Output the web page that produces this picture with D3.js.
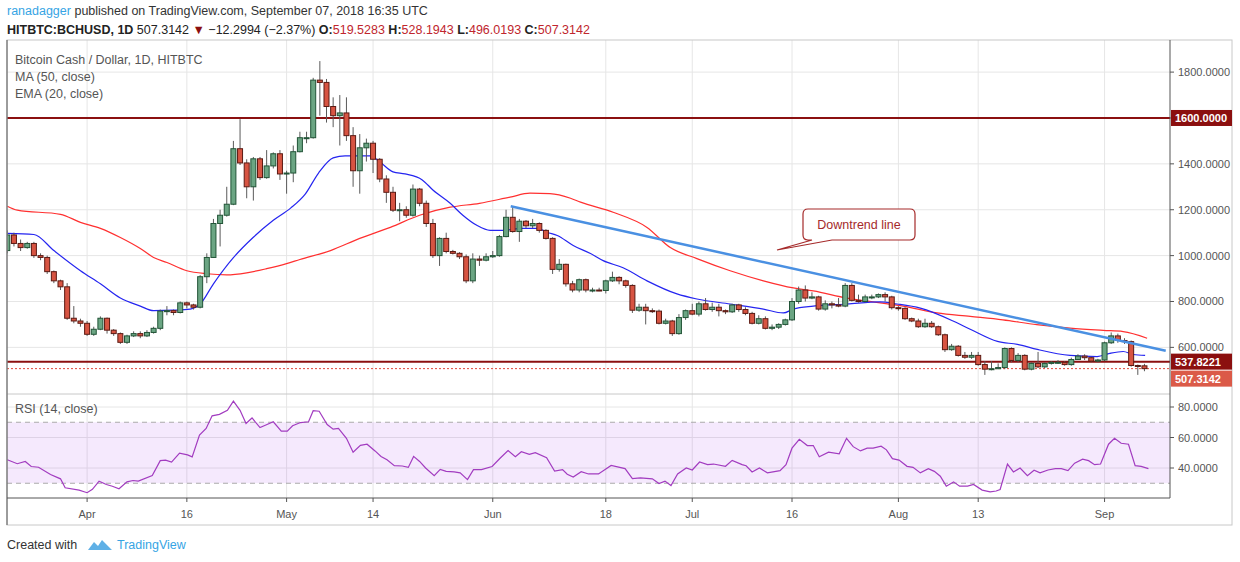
<!DOCTYPE html>
<html>
<head>
<meta charset="utf-8">
<script src="https://cdn.jsdelivr.net/npm/d3@7"></script>
<style>
  body { margin: 0; background: #fff; }
  text { font-family: "Liberation Sans", Arial, sans-serif; }
</style>
</head>
<body>
<svg id="chart" width="1240" height="562"></svg>
<script>
// daily candles, day 0 = 2018-03-20, last = 2018-09-07
var firstOpen = 1022;
var closes = [1090,1053,1035,1053,1000,992,930,890,864,727,715,705,657,679,727,675,660,622,650,660,650,665,683,758,760,752,794,785,775,908,992,1140,1176,1224,1466,1404,1300,1422,1340,1391,1444,1356,1360,1453,1514,
  1514,1765,1755,1650,1610,1622,1523,1370,1470,1490,1420,1334,1276,1198,1200,1176,1290,1228,1140,1000,1075,1018,1010,995,890,985,980,995,1000,1083,1167,1105,1150,1130,1140,1110,1075,940,962,877,850,895,850,
  850,848,890,905,890,870,762,775,760,758,705,715,660,730,760,745,790,765,775,760,755,785,765,748,705,725,683,688,700,720,800,850,815,820,767,790,785,780,870,805,800,820,820,830,
  820,773,770,725,715,690,705,690,655,590,605,565,557,565,525,505,507,512,595,543,565,505,530,515,530,535,535,525,547,562,555,540,545,620,650,630,625,521,519.5283,507.3142];
var highs = [1110,1100,1070,1060,1060,1010,1000,935,895,880,780,725,715,690,735,730,680,665,655,670,670,675,690,765,780,765,800,800,790,915,1010,1160,1200,1300,1500,1595,1420,1430,1430,1460,1450,1460,1370,1480,1540,
  1540,1775,1848,1770,1690,1700,1690,1560,1530,1510,1500,1425,1350,1300,1230,1215,1310,1295,1240,1160,1080,1100,1025,1015,1005,1010,1000,1010,1020,1090,1200,1215,1160,1155,1160,1145,1115,1080,985,965,890,900,900,
  860,860,895,930,910,895,875,790,790,770,765,725,720,745,765,790,800,815,795,790,765,790,790,775,755,740,735,700,705,725,815,865,870,840,825,805,800,815,880,880,830,830,830,835,
  840,825,780,775,730,725,725,715,695,660,615,610,580,580,580,540,540,530,600,600,575,570,535,580,535,540,545,540,555,570,570,560,550,625,665,660,640,630,525,528.1943];
var lows = [1010,1040,1020,1030,990,980,920,880,850,720,705,690,650,650,675,660,650,615,615,645,640,645,660,675,740,740,748,770,765,770,880,990,1040,1170,1220,1395,1250,1240,1330,1335,1380,1330,1270,1320,1450,
  1490,1510,1610,1580,1560,1480,1500,1300,1270,1410,1360,1320,1230,1190,1150,1165,1170,1215,1125,990,955,1010,1005,985,880,880,955,975,990,995,1080,1100,1060,1120,1120,1100,1070,920,930,865,840,840,840,
  840,845,835,885,875,860,750,755,700,750,700,700,650,655,720,740,735,760,755,735,745,750,755,740,700,700,678,675,680,695,715,790,800,810,760,760,770,775,775,800,795,795,810,815,
  800,765,760,720,710,685,685,685,650,580,585,560,550,550,520,480,500,505,505,535,535,500,500,510,510,525,528,520,520,545,545,535,535,540,615,620,615,516,480,496.0193];

// indicator lines: [day, value]
var ma50 = [[0,1215],[1.5,1198],[8,1180],[11,1145],[14,1119],[17,1079],[20,1031],[22,992],[24,970],[27,934],[30,921],[33,916],[36,925],[39,943],[42,965],[44,983],[48.6,1022],[53,1075],[57.6,1123],[62,1176],[66.6,1211],[71,1228],[75.6,1255],[78.6,1272],[81.6,1270],[84.7,1250],[86.2,1233],[91.1,1189],[96.2,1123],[99.7,1035],[103.7,987],[108.7,934],[113.7,890],[118.2,859],[121.2,846],[126.3,815],[131,795],[134.7,780],[139.8,750],[144.8,735],[149.7,720],[154.8,699],[159.8,684],[164.8,674],[167.8,669],[171.4,640]];
var ema20 = [[0,1097],[4,1092],[7,1022],[11,934],[14,877],[17,815],[20,780],[22,760],[25,762],[27.5,767],[29,789],[31,877],[34,991],[37,1080],[40,1154],[42.6,1207],[44.8,1268],[46.8,1360],[49,1426],[50.8,1435],[52.6,1435],[54.6,1435],[56,1409],[58,1365],[59.8,1356],[62.4,1330],[64,1286],[66.6,1228],[68.5,1176],[70.6,1132],[72.6,1110],[74.5,1110],[77.5,1119],[79.7,1119],[81.2,1101],[82.7,1088],[85.1,1044],[87.7,1009],[89.6,978],[92.6,947],[96.2,890],[100.7,833],[103.7,811],[108.7,789],[113.7,767],[116.7,750],[118.2,767],[121.2,780],[126.3,789],[131.2,798],[133.8,789],[137.3,771],[142.3,714],[144.8,679],[148.9,626],[151.9,613],[154.9,591],[159.8,565],[163.9,560],[165.8,574],[167.8,582],[169.3,569],[171.1,565]];
var rsi = [[0,45.4],[1.5,42.8],[2.7,44.3],[3.6,41],[4.7,40.5],[6.5,35.7],[8,32.9],[8.7,27],[10.8,25.5],[12,23.8],[12.8,26],[13.8,31.4],[14.9,29.2],[15.8,28],[16.8,26.4],[18,30.9],[18.9,31.8],[19.7,31.4],[21.8,35],[23,44.8],[23.8,45.2],[24.7,43.9],[25.9,49.7],[27.1,48.6],[27.8,47.3],[28.9,61.6],[29.9,65.9],[30.8,74.2],[31.9,75.2],[33.1,77.8],[34,83.9],[35,77.8],[35.9,69.2],[36.8,72.8],[38,66.5],[38.8,68],[40,70.3],[41.2,64.2],[42.1,64.2],[42.9,67.7],[44.1,69.8],[45.3,70.3],[46,77.6],[46.9,77.2],[48.1,68.5],[49,65.5],[49.8,66],[51,59.5],[52,50.4],[53.1,54.8],[54.1,55.6],[55.3,51.2],[56.2,47.6],[57.1,45.4],[58.2,41.5],[59.4,41.3],[60.3,40.4],[61.1,47.6],[62,44.3],[62.9,40],[64.2,35],[65.1,39.1],[66,37.8],[67.2,37.4],[68.1,36.8],[69.2,32.4],[70.1,38.9],[71.3,38.9],[72.9,41],[74.1,46.4],[75.3,51.5],[76.4,47.4],[77.3,50.7],[78.5,48.9],[79.4,50],[81.1,46.7],[82.3,38],[83.5,38.9],[84.2,35.9],[85.1,34.1],[86.3,37.6],[87.4,36.1],[88.9,36.1],[90.8,41.7],[92.9,39.6],[94,33.1],[95.2,33.5],[97,32.9],[98,29.8],[98.9,31.4],[99.8,28.5],[100.8,36.1],[102.1,40],[103,38.7],[104.1,43.9],[105.3,42.2],[106.2,42.6],[108,41.1],[109,45],[110.5,42.2],[111.1,41.5],[112,37.4],[113.1,40],[114.3,36.8],[116.2,38.3],[117.1,42.2],[118,53],[119.1,58.8],[120.3,54.7],[121.2,54.7],[122.1,47.4],[123.5,50.4],[125.1,49.3],[126.2,59.5],[127.2,54],[128.3,51.2],[129.3,53],[130.2,53],[131.4,54.3],[132.2,51.9],[133.1,46.1],[134.1,45.2],[135.3,41.1],[136.2,40.4],[137.3,36.8],[138.5,39.6],[139.4,37.8],[140.3,34.6],[141.2,28.1],[142.3,30.9],[143.2,28.1],[144.4,28.1],[145.3,29.2],[146.6,25.5],[147.8,24.4],[148.7,24.9],[149.3,25.9],[150.4,42.6],[151.3,37.4],[152.3,40],[153.4,35],[154.4,38.5],[155.3,36.8],[156.5,38.7],[157.6,39.6],[158.5,39.6],[159.5,38.3],[160.5,43.2],[161.7,45.8],[162.6,44.8],[163.5,42.2],[164.4,42.6],[165.6,55.6],[166.5,59.5],[167.5,56.2],[168.6,55.6],[169.6,41.5],[170.5,41.1],[171.6,39.6]];

var trendLine = [[75.7,1215],[174.2,585]];
var levels = [1600, 537.8221];
var lastPrice = 507.3142;
var priceTicks = [600,800,1000,1200,1400,1600,1800];
var rsiTicks = [40,60,80];
var dateTicks = [[12,"Apr"],[27,"16"],[42,"May"],[55,"14"],[73,"Jun"],[90,"18"],[103,"Jul"],[118,"16"],[134,"Aug"],[146,"13"],[165,"Sep"]];

var svg = d3.select("#chart");
var L = 7, R = 1170, T = 40, MB = 393, RT = 395, RB = 498;

var x = d3.scaleLinear().domain([0,171]).range([7.3, 7.3 + 171*6.65]);
var y = d3.scaleLinear().domain([400,1800]).range([393.25, 72.1]);
var yr = d3.scaleLinear().domain([40,80]).range([468,407]);

svg.append("defs").append("clipPath").attr("id","clipMain")
  .append("rect").attr("x",L).attr("y",T).attr("width",R-L).attr("height",MB-T);
svg.select("defs").append("clipPath").attr("id","clipRsi")
  .append("rect").attr("x",L).attr("y",RT).attr("width",R-L).attr("height",RB-RT);

// grid
var grid = svg.append("g").attr("stroke","#e6e6e6").attr("stroke-width",1);
dateTicks.forEach(function(t){
  grid.append("line").attr("x1",x(t[0])).attr("x2",x(t[0])).attr("y1",T).attr("y2",RB);
});
priceTicks.forEach(function(p){
  grid.append("line").attr("x1",L).attr("x2",R).attr("y1",y(p)).attr("y2",y(p));
});
rsiTicks.forEach(function(p){
  grid.append("line").attr("x1",L).attr("x2",R).attr("y1",yr(p)).attr("y2",yr(p));
});

// RSI pane
var rg = svg.append("g").attr("clip-path","url(#clipRsi)");
rg.append("rect").attr("x",L).attr("width",R-L).attr("y",yr(70)).attr("height",yr(30)-yr(70))
  .attr("fill","#9c27f0").attr("fill-opacity",0.1);
[70,30].forEach(function(v){
  rg.append("line").attr("x1",L).attr("x2",R).attr("y1",yr(v)).attr("y2",yr(v))
    .attr("stroke","#aaa").attr("stroke-dasharray","5,4");
});
rg.append("path").datum(rsi)
  .attr("d", d3.line().x(function(d){return x(d[0]);}).y(function(d){return yr(d[1]);}))
  .attr("fill","none").attr("stroke","#a23cc0").attr("stroke-width",1.2);

// main pane
var mg = svg.append("g").attr("clip-path","url(#clipMain)");
var smooth = d3.line().curve(d3.curveMonotoneX)
  .x(function(d){return x(d[0]);}).y(function(d){return y(d[1]);});

levels.forEach(function(v){
  mg.append("line").attr("x1",L).attr("x2",R).attr("y1",y(v)).attr("y2",y(v))
    .attr("stroke","#8b1010").attr("stroke-width",2);
});
mg.append("line").attr("x1",L).attr("x2",R).attr("y1",y(lastPrice)).attr("y2",y(lastPrice))
  .attr("stroke","#e0463a").attr("stroke-dasharray","2,2");

mg.append("path").datum(ma50).attr("d",smooth).attr("fill","none").attr("stroke","#ff3030").attr("stroke-width",1.2);
mg.append("path").datum(ema20).attr("d",smooth).attr("fill","none").attr("stroke","#2525f0").attr("stroke-width",1.2);

var candles = closes.map(function(c,i){
  return {i:i, o: i ? closes[i-1] : firstOpen, h: highs[i], l: lows[i], c: c};
});
var cg = mg.selectAll("g.candle").data(candles).enter().append("g");
cg.append("line")
  .attr("x1",function(d){return x(d.i);}).attr("x2",function(d){return x(d.i);})
  .attr("y1",function(d){return y(Math.max(d.h,d.o,d.c));}).attr("y2",function(d){return y(Math.min(d.l,d.o,d.c));})
  .attr("stroke","#5a5a5a");
cg.append("rect")
  .attr("x",function(d){return x(d.i)-2.5;}).attr("width",5)
  .attr("y",function(d){return y(Math.max(d.o,d.c));})
  .attr("height",function(d){return Math.max(1, y(Math.min(d.o,d.c)) - y(Math.max(d.o,d.c)));})
  .attr("fill",function(d){return d.c >= d.o ? "#6ba583" : "#d75442";})
  .attr("stroke",function(d){return d.c >= d.o ? "#225437" : "#5b1a13";});

mg.append("line")
  .attr("x1",x(trendLine[0][0])).attr("y1",y(trendLine[0][1]))
  .attr("x2",x(trendLine[1][0])).attr("y2",y(trendLine[1][1]))
  .attr("stroke","#4a90e2").attr("stroke-width",2.5);

// callout
svg.append("path")
  .attr("d","M808,209 H910 Q915,209 915,214 V235 Q915,240 910,240 H832 L777,250 L812,240 H808 Q803,240 803,235 V214 Q803,209 808,209 Z")
  .attr("fill","#fff").attr("stroke","#a52a2a").attr("stroke-width",1.2);
svg.append("text").attr("x",859).attr("y",229).attr("text-anchor","middle")
  .attr("fill","#a52a2a").attr("font-size",12.5).text("Downtrend line");

// frame and axes
svg.append("rect").attr("x",L).attr("y",T).attr("width",1232-L).attr("height",525-T)
  .attr("fill","none").attr("stroke","#c8c8c8");
svg.append("line").attr("x1",L).attr("x2",R).attr("y1",RT-1).attr("y2",RT-1).attr("stroke","#c8c8c8");
svg.append("line").attr("x1",R).attr("x2",R).attr("y1",T).attr("y2",RB).attr("stroke","#555");
svg.append("line").attr("x1",L).attr("x2",R).attr("y1",RB).attr("y2",RB).attr("stroke","#555");
svg.append("line").attr("x1",L).attr("x2",L).attr("y1",T).attr("y2",525).attr("stroke","#555");

var ax = svg.append("g").attr("font-size",11).attr("fill","#555");
priceTicks.forEach(function(p){
  ax.append("line").attr("x1",R).attr("x2",R+4).attr("y1",y(p)).attr("y2",y(p)).attr("stroke","#555");
  if (levels.indexOf(p) < 0) // a level tag carries this label
    ax.append("text").attr("x",R+8).attr("y",y(p)+4).text(p.toFixed(4));
});
rsiTicks.forEach(function(p){
  ax.append("line").attr("x1",R).attr("x2",R+4).attr("y1",yr(p)).attr("y2",yr(p)).attr("stroke","#555");
  ax.append("text").attr("x",R+8).attr("y",yr(p)+4).text(p.toFixed(4));
});
dateTicks.forEach(function(t){
  ax.append("line").attr("x1",x(t[0])).attr("x2",x(t[0])).attr("y1",RB).attr("y2",RB+4).attr("stroke","#555");
  ax.append("text").attr("x",x(t[0])).attr("y",RB+20).attr("text-anchor","middle").text(t[1]);
});

// price tags (the last-price tag is pushed below the level tag, as in the original)
function tag(v, yy, fill){
  svg.append("rect").attr("x",R+1).attr("y",yy-8).attr("width",61).attr("height",16).attr("fill",fill);
  svg.append("text").attr("x",R+5).attr("y",yy+4.5).attr("fill","#fff").attr("font-size",11)
    .attr("font-weight","bold").text(v.toFixed(4));
}
tag(1600, y(1600), "#8b0f0f");
tag(537.8221, y(537.8221), "#8b0f0f");
tag(lastPrice, y(537.8221) + 17, "#db5a48");

// legends
var lg = svg.append("g").attr("fill","#555").attr("font-size",12.5);
lg.append("text").attr("x",15).attr("y",64).text("Bitcoin Cash / Dollar, 1D, HITBTC");
lg.append("text").attr("x",15).attr("y",81).text("MA (50, close)");
lg.append("text").attr("x",15).attr("y",98).text("EMA (20, close)");
lg.append("text").attr("x",15).attr("y",413).text("RSI (14, close)");

// header
var h1 = svg.append("text").attr("x",7).attr("y",15).attr("font-size",12.5).attr("fill","#333");
h1.append("tspan").attr("fill","#36a4e4").text("ranadagger");
h1.append("tspan").text(" published on TradingView.com, September 07, 2018 16:35 UTC");
var h2 = svg.append("text").attr("x",7).attr("y",34).attr("font-size",12.5).attr("fill","#222");
h2.append("tspan").attr("font-weight","bold").text("HITBTC:BCHUSD, 1D");
h2.append("tspan").text(" 507.3142 ");
h2.append("tspan").attr("fill","#8b0f0f").text("▼");
h2.append("tspan").text(" −12.2994 (−2.37%) ");
[["O:","519.5283"],["H:","528.1943"],["L:","496.0193"],["C:","507.3142"]].forEach(function(p,i){
  h2.append("tspan").attr("font-weight","bold").text((i ? " " : "") + p[0]);
  h2.append("tspan").attr("fill","#c0262d").text(p[1]);
});

// footer
svg.append("text").attr("x",7).attr("y",549).attr("font-size",12.5).attr("fill","#333").text("Created with");
svg.append("path").attr("d","M88,550 l6,-8 l4,4 l4,-6 l10,10 Z").attr("fill","#5fb0e6");
svg.append("text").attr("x",117).attr("y",549).attr("font-size",12.5).attr("fill","#36a4e4").text("TradingView");
</script>
</body>
</html>
